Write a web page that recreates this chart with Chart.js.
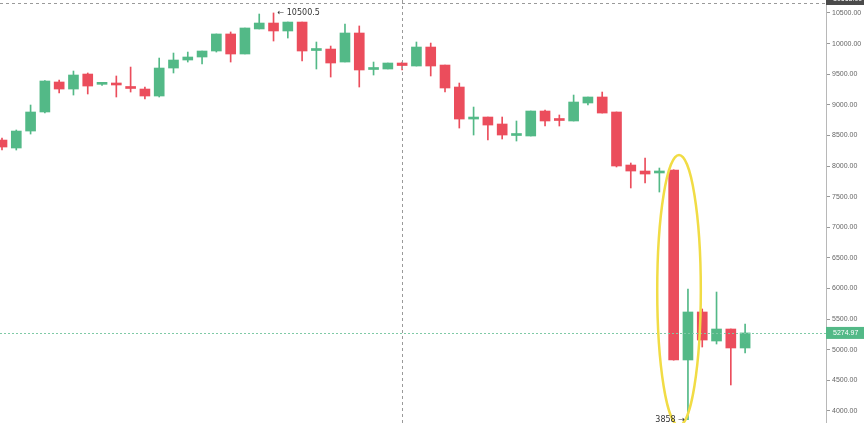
<!DOCTYPE html>
<html>
<head>
<meta charset="utf-8">
<script src="https://cdn.jsdelivr.net/npm/chart.js@4"></script>
<style>
  html, body { margin: 0; background: #fff; }
  #wrap { width: 864px; height: 423px; }
</style>
</head>
<body>
<div id="wrap"><canvas id="chart"></canvas></div>
<script>
// daily candles (index 0 = leftmost, partly cut)
const opens  = [8425, 8295, 8572, 8883, 9373, 9258, 9503, 9335, 9356, 9291,
                9258, 9144, 9601, 9732, 9781, 9879, 10157, 9830, 10239, 10336,
                10206, 10352, 9887, 9911, 9699, 10173, 9577, 9585, 9683, 9634,
                9944, 9650, 9291, 8768, 8801, 8687, 8499, 8491, 8899, 8752,
                8736, 9030, 9128, 8883, 8017, 7919, 7887, 7936, 4833, 5617,
                5143, 5339, 5029];
const highs  = [8458, 8589, 8997, 9395, 9405, 9552, 9520, 9362, 9471, 9617,
                9291, 9764, 9846, 9862, 9879, 10157, 10190, 10255, 10483, 10500.5,
                10352, 10352, 10026, 9960, 10320, 10288, 9699, 9683, 9699, 10026,
                10009, 9650, 9356, 8964, 8801, 8801, 8736, 8899, 8915, 8834,
                9160, 9128, 9209, 8883, 8050, 8131, 7968, 7940, 5992, 5666,
                5943, 5339, 5421];
const lows   = [8262, 8262, 8523, 8866, 9193, 9160, 9177, 9318, 9128, 9209,
                9095, 9128, 9520, 9699, 9667, 9862, 9699, 9830, 10239, 10042,
                10091, 9716, 9585, 9454, 9699, 9291, 9487, 9585, 9569, 9634,
                9471, 9209, 8621, 8507, 8425, 8442, 8409, 8491, 8654, 8654,
                8736, 8997, 8866, 7985, 7642, 7723, 7576, 4830, 3858, 5045,
                5094, 4425, 4947];
const closes = [8311, 8572, 8883, 9389, 9258, 9487, 9307, 9352, 9324, 9267,
                9144, 9601, 9732, 9781, 9879, 10157, 9830, 10255, 10336, 10206,
                10352, 9879, 9895, 9683, 10173, 9569, 9585, 9683, 9642, 9944,
                9634, 9275, 8768, 8793, 8670, 8507, 8507, 8899, 8736, 8744,
                9046, 9128, 8866, 8001, 7919, 7870, 7919, 4833, 5617, 5159,
                5339, 5029, 5274.97];

const priceTicks = [4000, 4500, 5000, 5500, 6000, 6500, 7000, 7500, 8000, 8500, 9000, 9500, 10000, 10500];
const lastPrice = 5274.97;
const crossIndex = 28;
const crossPrice = 10663;
const maxIdx = highs.indexOf(Math.max(...highs));
const minIdx = lows.indexOf(Math.min(...lows));
// yellow ring around the crash candles (index span, price span)
const ring = { from: 45.85, to: 48.9, top: 8180, bottom: 3760 };

const upColor = '#53b987';
const downColor = '#eb4d5c';
const candleColors = closes.map((c, i) => c >= opens[i] ? upColor : downColor);

const overlays = {
  id: 'overlays',
  afterDatasetsDraw(chart) {
    const { ctx, chartArea: a, scales: { x, y } } = chart;
    ctx.save();

    // crosshair
    ctx.strokeStyle = '#9a9a9a';
    ctx.lineWidth = 1;
    ctx.setLineDash([3, 3]);
    const cx = Math.round(x.getPixelForValue(crossIndex)) + 0.5;
    ctx.beginPath(); ctx.moveTo(cx, a.top); ctx.lineTo(cx, a.bottom); ctx.stroke();
    const cy = Math.round(y.getPixelForValue(crossPrice)) + 0.5;
    ctx.beginPath(); ctx.moveTo(0, cy); ctx.lineTo(a.right, cy); ctx.stroke();

    // last price line
    const py = Math.round(y.getPixelForValue(lastPrice)) + 0.5;
    ctx.strokeStyle = '#7fcaa6';
    ctx.setLineDash([2, 2]);
    ctx.beginPath(); ctx.moveTo(0, py); ctx.lineTo(a.right, py); ctx.stroke();
    ctx.setLineDash([]);

    // ring
    const rx0 = x.getPixelForValue(ring.from), rx1 = x.getPixelForValue(ring.to);
    const ry0 = y.getPixelForValue(ring.top), ry1 = y.getPixelForValue(ring.bottom);
    ctx.strokeStyle = '#f1dc45';
    ctx.lineWidth = 2.5;
    ctx.beginPath();
    ctx.ellipse((rx0 + rx1) / 2, (ry0 + ry1) / 2, (rx1 - rx0) / 2, (ry1 - ry0) / 2, 0, 0, Math.PI * 2);
    ctx.stroke();

    // high / low marks
    ctx.fillStyle = '#333';
    ctx.font = '8px "DejaVu Sans", sans-serif';
    ctx.textBaseline = 'middle';
    const hx = x.getPixelForValue(maxIdx) + 4, hy = y.getPixelForValue(highs[maxIdx]);
    ctx.textAlign = 'left';
    ctx.fillText('\u2190 ' + highs[maxIdx], hx, hy);
    const lx = x.getPixelForValue(minIdx) - 3, ly = y.getPixelForValue(lows[minIdx]);
    ctx.textAlign = 'right';
    ctx.fillText(lows[minIdx] + ' \u2192', lx, ly);
    ctx.restore();
  },
  afterDraw(chart) {
    const { ctx, chartArea: a, scales: { y } } = chart;
    ctx.save();
    ctx.font = '7px "Liberation Sans", Arial, sans-serif';
    ctx.textBaseline = 'middle';
    ctx.textAlign = 'left';
    const w = chart.width - a.right;

    const py = y.getPixelForValue(lastPrice);
    ctx.fillStyle = upColor;
    ctx.fillRect(a.right, py - 6, w, 12);
    ctx.fillStyle = '#fff';
    ctx.fillText(lastPrice.toFixed(2), a.right + 7, py);

    const cy = y.getPixelForValue(crossPrice) - 4;
    ctx.fillStyle = '#4a4a4a';
    ctx.fillRect(a.right, cy - 6, w, 12);
    ctx.fillStyle = '#fff';
    ctx.fillText(crossPrice.toFixed(2), a.right + 7, cy);
    ctx.restore();
  }
};

const ctx = document.getElementById('chart').getContext('2d');
new Chart(ctx, {
  type: 'bar',
  data: {
    datasets: [
      {
        label: 'wick',
        data: opens.map((o, i) => ({ x: i, y: [lows[i], highs[i]] })),
        backgroundColor: candleColors,
        barThickness: 1,
        grouped: false,
        order: 2,
      },
      {
        label: 'body',
        data: opens.map((o, i) => ({ x: i, y: [o, closes[i]] })),
        backgroundColor: candleColors,
        barThickness: 10,
        minBarLength: 2,
        grouped: false,
        order: 1,
      },
    ],
  },
  options: {
    responsive: true,
    maintainAspectRatio: false,
    animation: false,
    layout: { padding: 0 },
    plugins: { legend: { display: false }, tooltip: { enabled: false } },
    scales: {
      x: {
        type: 'linear',
        min: -0.14,
        max: 57.66,
        offset: false,
        display: false,
      },
      y: {
        position: 'right',
        min: 3804,
        max: 10712,
        afterFit(scale) {
          scale.width = 38;
          scale.paddingTop = 0;
          scale.paddingBottom = 0;
        },
        afterBuildTicks(scale) { scale.ticks = priceTicks.map(v => ({ value: v })); },
        border: { color: '#b8b8b8' },
        grid: { drawOnChartArea: false, tickLength: 4, color: '#9a9a9a' },
        ticks: {
          padding: 2,
          color: '#666',
          font: { size: 7, family: '"Liberation Sans", Arial, sans-serif' },
          callback: v => v.toFixed(2),
        },
      },
    },
  },
  plugins: [overlays],
});
</script>
</body>
</html>
